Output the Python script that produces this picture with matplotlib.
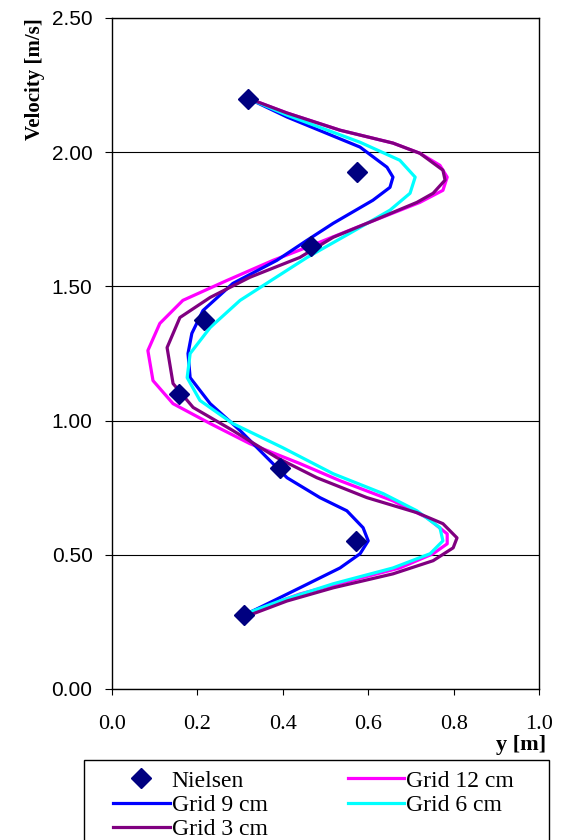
import matplotlib

matplotlib.use("Agg")
import matplotlib.pyplot as plt
from matplotlib.patches import Rectangle

# Measured velocity profile (Nielsen)
nielsen_y = [0.318, 0.574, 0.466, 0.215, 0.157, 0.393, 0.571, 0.309]
nielsen_v = [2.20, 1.925, 1.65, 1.375, 1.10, 0.825, 0.55, 0.275]

# Simulated profiles for each grid size (y position, velocity)
grid12_y = [0.318, 0.410, 0.534, 0.658, 0.721, 0.768, 0.785, 0.775, 0.721, 0.597,
            0.457, 0.377, 0.269, 0.166, 0.112, 0.084, 0.096, 0.143, 0.230, 0.323,
            0.440, 0.534, 0.658, 0.738, 0.785, 0.785, 0.752, 0.674, 0.557, 0.440,
            0.330, 0.311]
grid12_v = [2.201, 2.146, 2.082, 2.034, 1.996, 1.951, 1.907, 1.858, 1.813, 1.735,
            1.646, 1.597, 1.522, 1.448, 1.362, 1.261, 1.149, 1.063, 0.989, 0.914,
            0.840, 0.776, 0.701, 0.638, 0.578, 0.541, 0.504, 0.451, 0.403, 0.354,
            0.291, 0.276]

grid9_y = [0.318, 0.410, 0.581, 0.644, 0.658, 0.651, 0.611, 0.518, 0.457, 0.386,
           0.283, 0.213, 0.187, 0.178, 0.183, 0.230, 0.300, 0.363, 0.410, 0.487,
           0.550, 0.588, 0.600, 0.581, 0.534, 0.440, 0.330, 0.311]
grid9_v = [2.201, 2.131, 2.019, 1.944, 1.907, 1.869, 1.821, 1.735, 1.672, 1.597,
           1.511, 1.410, 1.325, 1.250, 1.160, 1.063, 0.963, 0.862, 0.787, 0.713,
           0.664, 0.601, 0.552, 0.504, 0.451, 0.377, 0.291, 0.276]

grid6_y = [0.318, 0.410, 0.581, 0.674, 0.710, 0.698, 0.651, 0.557, 0.457, 0.300,
           0.230, 0.183, 0.176, 0.206, 0.283, 0.400, 0.518, 0.635, 0.714, 0.768,
           0.775, 0.745, 0.658, 0.518, 0.393, 0.330, 0.311]
grid6_v = [2.201, 2.138, 2.037, 1.970, 1.907, 1.847, 1.784, 1.698, 1.608, 1.448,
           1.347, 1.250, 1.160, 1.075, 0.989, 0.899, 0.802, 0.728, 0.664, 0.601,
           0.552, 0.504, 0.451, 0.392, 0.328, 0.291, 0.276]

grid3_y = [0.318, 0.410, 0.534, 0.658, 0.721, 0.775, 0.780, 0.752, 0.714, 0.597,
           0.518, 0.440, 0.323, 0.230, 0.159, 0.129, 0.143, 0.190, 0.283, 0.386,
           0.480, 0.597, 0.714, 0.775, 0.808, 0.799, 0.752, 0.658, 0.518, 0.410,
           0.330, 0.311]
grid3_v = [2.201, 2.146, 2.082, 2.034, 1.996, 1.933, 1.896, 1.847, 1.813, 1.735,
           1.683, 1.608, 1.534, 1.459, 1.384, 1.272, 1.138, 1.049, 0.963, 0.862,
           0.787, 0.713, 0.657, 0.616, 0.563, 0.526, 0.478, 0.429, 0.377, 0.328,
           0.280, 0.272]

x_ticks = [0.0, 0.2, 0.4, 0.6, 0.8, 1.0]
v_ticks = [0.0, 0.5, 1.0, 1.5, 2.0, 2.5]

serif = "Liberation Serif"
sans = "Liberation Sans"

fig = plt.figure(figsize=(5.68, 8.4), dpi=100)
ax = fig.add_axes([112 / 568, 1 - 689 / 840, 427 / 568, 671 / 840])

h12, = ax.plot(grid12_y, grid12_v, color="#FF00FF", lw=2.3, label="Grid 12 cm")
h9, = ax.plot(grid9_y, grid9_v, color="#0000FF", lw=2.3, label="Grid 9 cm")
h6, = ax.plot(grid6_y, grid6_v, color="#00FFFF", lw=2.3, label="Grid 6 cm")
h3, = ax.plot(grid3_y, grid3_v, color="#800080", lw=2.3, label="Grid 3 cm")
hn, = ax.plot(nielsen_y, nielsen_v, ls="none", marker="D", ms=10.5,
              color="#000080", label="Nielsen", zorder=5)

ax.set_xlim(0, 1)
ax.set_ylim(0, 2.5)
ax.set_xticks(x_ticks)
ax.set_xticklabels([f"{t:.1f}" for t in x_ticks], fontfamily=serif, fontsize=16)
ax.set_yticks(v_ticks)
ax.set_yticklabels([f"{t:.2f}" for t in v_ticks], fontfamily=sans, fontsize=15)
ax.tick_params(axis="x", direction="out", length=4.5, width=0.8, pad=14)
ax.tick_params(axis="y", direction="out", length=5, width=0.8, pad=9)
ax.yaxis.grid(True, color="black", lw=0.8)
ax.set_axisbelow(True)
for s in ax.spines.values():
    s.set_linewidth(1.0)

fig.text(35 / 568, 1 - 18 / 840, "Velocity [m/s]", rotation=90, ha="center",
         va="top", fontfamily=serif, fontweight="bold", fontsize=15)
fig.text(546 / 568, 1 - 745 / 840, "y [m]", ha="right", va="center",
         fontfamily=serif, fontweight="bold", fontsize=16)

# legend box runs off the bottom edge
fig.patches.append(Rectangle((84 / 568, -0.05), 465 / 568, 0.05 + 80 / 840,
                             transform=fig.transFigure, fill=False,
                             edgecolor="black", lw=1.0))
fig.legend(handles=[hn, h9, h3, h12, h6], ncol=2, loc="upper left",
           bbox_to_anchor=(113 / 568, 1 - 770 / 840), frameon=False,
           prop={"family": serif, "size": 17}, handlelength=2.4,
           handletextpad=0.08, columnspacing=3.4, labelspacing=0.12,
           borderpad=0, borderaxespad=0)

fig.savefig("out.png", dpi=100)
